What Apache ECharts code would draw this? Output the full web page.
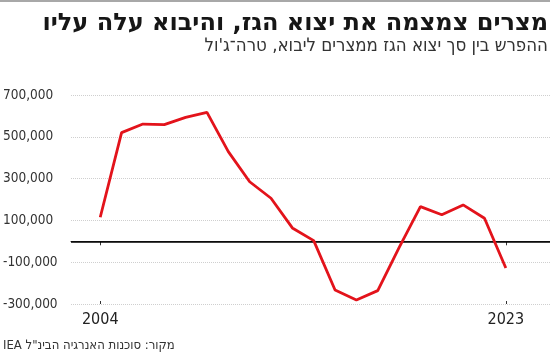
<!DOCTYPE html>
<html>
<head>
<meta charset="utf-8">
<script src="https://cdn.jsdelivr.net/npm/echarts@6/dist/echarts.min.js"></script>
<style>
html,body{margin:0;padding:0;background:#fff;}
#chart{width:550px;height:354px;}
</style>
</head>
<body>
<div id="chart"></div>
<script>
var years = [2004,2005,2006,2007,2008,2009,2010,2011,2012,2013,2014,2015,2016,2017,2018,2019,2020,2021,2022,2023];
var netExport = [115000,520000,561000,558000,593000,617000,429000,285000,206000,64000,3000,-233000,-281000,-236000,-30000,166000,127000,174000,110000,-128000];
var xTickYears = [2004, 2023];
var titleText = "מצרים צמצמה את יצוא הגז, והיבוא עלה עליו";
var subtitleText = "ההפרש בין סך יצוא הגז ממצרים ליבוא, טרה־ג'ול";
var sourceText = "מקור: סוכנות האנרגיה הבינ\"ל IEA";

var RLE = "\u202B", PDF = "\u202C";
var narrow = "'Liberation Sans Narrow', 'DejaVu Sans Condensed', sans-serif";

var chart = echarts.init(document.getElementById('chart'), null, {renderer: 'canvas'});
var option = {
  animation: false,
  backgroundColor: '#fff',
  grid: {left: 69, right: 0, top: 95, bottom: 50, containLabel: false},
  graphic: [
    {type: 'rect', shape: {x: 0, y: 0, width: 550, height: 2}, style: {fill: '#a8a8a8'}},
    {type: 'text', style: {x: 548, y: 12, text: RLE + titleText + PDF, textAlign: 'right', textVerticalAlign: 'top', fill: '#161616', font: "bold 24px 'DejaVu Sans', sans-serif"}},
    {type: 'text', style: {x: 548, y: 37, text: RLE + subtitleText + PDF, textAlign: 'right', textVerticalAlign: 'top', fill: '#333', font: "18.5px " + narrow}},
    {type: 'text', style: {x: 3, y: 346, text: RLE + sourceText + PDF, textAlign: 'left', textVerticalAlign: 'middle', fill: '#333', font: "13px " + narrow}}
  ],
  xAxis: [
    {
      type: 'value', min: 2002.63, max: 2025.07,
      axisLine: {show: true, lineStyle: {color: '#333', width: 1}},
      axisTick: {show: true, customValues: xTickYears, length: 4, lineStyle: {color: '#333'}},
      axisLabel: {show: true, customValues: xTickYears, margin: 8, color: '#222', fontSize: 16, fontFamily: narrow, formatter: function(v){return String(v);}},
      splitLine: {show: false}
    },
    {
      type: 'value', min: 2002.63, max: 2025.07, position: 'bottom',
      axisLine: {show: false},
      axisTick: {show: true, inside: true, customValues: xTickYears, length: 3, lineStyle: {color: '#333'}},
      axisLabel: {show: false},
      splitLine: {show: false}
    }
  ],
  yAxis: {
    type: 'value', min: -300000, max: 700000, interval: 200000,
    axisLine: {show: false}, axisTick: {show: false},
    axisLabel: {
      align: 'left', margin: 68, color: '#333', fontSize: 13.5, fontFamily: narrow,
      formatter: function(v){ return v.toLocaleString('en-US'); }
    },
    splitLine: {show: true, lineStyle: {color: '#cfcfcf', type: 'dotted', width: 1}}
  },
  series: [{
    type: 'line',
    xAxisIndex: 0,
    data: years.map(function(y, i){ return [y, netExport[i]]; }),
    symbol: 'none',
    lineStyle: {color: '#e3131b', width: 2.8},
    z: 3,
    markLine: {
      silent: true, symbol: ['none','none'], label: {show: false},
      lineStyle: {color: '#000', width: 1.5, type: 'solid'},
      data: [{yAxis: 0}],
      z: 2
    }
  }]
};
chart.setOption(option);
</script>
</body>
</html>
